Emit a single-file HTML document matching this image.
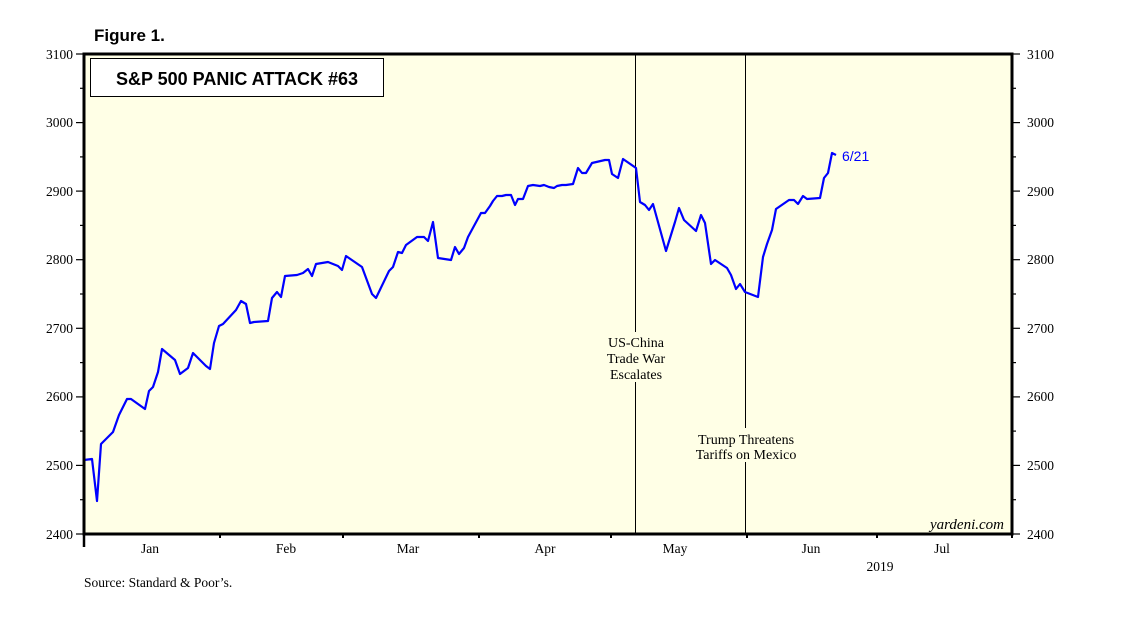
<!DOCTYPE html>
<html><head><meta charset="utf-8"><style>
html,body{margin:0;padding:0;background:#fff;}
svg{display:block;}
</style></head><body>
<svg width="1138" height="621" viewBox="0 0 1138 621" xmlns="http://www.w3.org/2000/svg">
<rect x="0" y="0" width="1138" height="621" fill="#fff"/>
<text x="94" y="41" font-family="Liberation Sans, sans-serif" font-weight="bold" font-size="17">Figure 1.</text>
<rect x="84" y="54" width="928" height="480" fill="#ffffe6"/>
<!-- event lines -->
<line x1="635.5" y1="54" x2="635.5" y2="534" stroke="#000" stroke-width="1"/>
<line x1="745.5" y1="54" x2="745.5" y2="534" stroke="#000" stroke-width="1"/>
<rect x="600" y="332" width="72" height="50" fill="#ffffe6"/>
<rect x="688" y="428" width="116" height="34" fill="#ffffe6"/>
<g font-family="Liberation Serif, serif" font-size="14" text-anchor="middle" fill="#000">
<text x="636" y="347">US-China</text>
<text x="636" y="363">Trade War</text>
<text x="636" y="379">Escalates</text>
<text x="746" y="444">Trump Threatens</text>
<text x="746" y="459">Tariffs on Mexico</text>
</g>
<!-- title box -->
<rect x="90.5" y="58.5" width="293" height="38" fill="#fff" stroke="#000" stroke-width="1"/>
<text x="237" y="85" text-anchor="middle" font-family="Liberation Sans, sans-serif" font-weight="bold" font-size="18">S&amp;P 500 PANIC ATTACK #63</text>
<!-- series -->
<polyline fill="none" stroke="#0000ff" stroke-width="2.2" stroke-linejoin="round" points="84,460 92,459 97,501 101,444 113,432 119,415 127,399 131,399 145,409 149,391 153,387 158,372 162,349 175,360 180,374 188,368 193,353 206,366 210,369 214,343 219,326 223,324 236,310 241,301 246,304 250,323 254,322 268,321 272,298 277,292 281,297 285,276 297,275 303,273 308,269 312,276 316,264 328,262 333,264 338,266 342,270 346,256 362,267 372,294 376,298 389,271 393,267 398,252 402,253 406,245 417,237 424,237 428,241 433,222 438,258 451,260 455,247 459,254 464,248 468,237 481,213 485,213 490,206 493,201 497,196 502,196 506,195 511,195 515,205 518,199 523,199 528,186 533,185 540,186 544,185 549,187 554,188 557,186 562,185 566,185 573,184 578,168 582,173 586,173 592,163 605,160 609,160 612,174 618,178 623,159 636,168 640,202 645,205 649,210 653,204 666,251 675,222 679,208 684,220 696,231 701,215 705,223 711,264 715,260 727,268 731,275 736,289 740,284 745,292 758,297 763,257 767,244 772,230 776,209 789,200 794,200 798,204 803,196 807,199 820,198 824,178 828,173 832,153 836,155"/>
<text x="842" y="161" font-family="Liberation Sans, sans-serif" font-size="14" fill="#0000ff">6/21</text>
<text x="1004" y="529" text-anchor="end" font-family="Liberation Serif, serif" font-style="italic" font-size="15">yardeni.com</text>
<!-- frame -->
<rect x="84" y="54" width="928" height="480" fill="none" stroke="#000" stroke-width="3"/>
<!-- y ticks & labels -->
<g stroke="#000" stroke-width="1.2">
<line x1="76" y1="54" x2="84" y2="54"/><line x1="1012" y1="54" x2="1020" y2="54"/>
<line x1="80" y1="88.3" x2="84" y2="88.3"/><line x1="1012" y1="88.3" x2="1016" y2="88.3"/>
<line x1="76" y1="122.6" x2="84" y2="122.6"/><line x1="1012" y1="122.6" x2="1020" y2="122.6"/>
<line x1="80" y1="156.9" x2="84" y2="156.9"/><line x1="1012" y1="156.9" x2="1016" y2="156.9"/>
<line x1="76" y1="191.1" x2="84" y2="191.1"/><line x1="1012" y1="191.1" x2="1020" y2="191.1"/>
<line x1="80" y1="225.4" x2="84" y2="225.4"/><line x1="1012" y1="225.4" x2="1016" y2="225.4"/>
<line x1="76" y1="259.7" x2="84" y2="259.7"/><line x1="1012" y1="259.7" x2="1020" y2="259.7"/>
<line x1="80" y1="294" x2="84" y2="294"/><line x1="1012" y1="294" x2="1016" y2="294"/>
<line x1="76" y1="328.3" x2="84" y2="328.3"/><line x1="1012" y1="328.3" x2="1020" y2="328.3"/>
<line x1="80" y1="362.6" x2="84" y2="362.6"/><line x1="1012" y1="362.6" x2="1016" y2="362.6"/>
<line x1="76" y1="396.9" x2="84" y2="396.9"/><line x1="1012" y1="396.9" x2="1020" y2="396.9"/>
<line x1="80" y1="431.1" x2="84" y2="431.1"/><line x1="1012" y1="431.1" x2="1016" y2="431.1"/>
<line x1="76" y1="465.4" x2="84" y2="465.4"/><line x1="1012" y1="465.4" x2="1020" y2="465.4"/>
<line x1="80" y1="499.7" x2="84" y2="499.7"/><line x1="1012" y1="499.7" x2="1016" y2="499.7"/>
<line x1="76" y1="534" x2="84" y2="534"/><line x1="1012" y1="534" x2="1020" y2="534"/>
<!-- x ticks -->
<line x1="84" y1="534" x2="84" y2="547" stroke-width="2.5"/>
<line x1="220" y1="534" x2="220" y2="538" stroke-width="2"/>
<line x1="343" y1="534" x2="343" y2="538" stroke-width="2"/>
<line x1="479" y1="534" x2="479" y2="538" stroke-width="2"/>
<line x1="611" y1="534" x2="611" y2="538" stroke-width="2"/>
<line x1="747" y1="534" x2="747" y2="538" stroke-width="2"/>
<line x1="877" y1="534" x2="877" y2="538" stroke-width="2"/>
<line x1="1012" y1="534" x2="1012" y2="538" stroke-width="2"/>
</g>
<g font-family="Liberation Serif, serif" font-size="13.5" fill="#000">
<g text-anchor="end">
<text x="73" y="59">3100</text><text x="73" y="127">3000</text><text x="73" y="196">2900</text><text x="73" y="264">2800</text><text x="73" y="333">2700</text><text x="73" y="401">2600</text><text x="73" y="470">2500</text><text x="73" y="539">2400</text>
</g>
<text x="1027" y="59">3100</text><text x="1027" y="127">3000</text><text x="1027" y="196">2900</text><text x="1027" y="264">2800</text><text x="1027" y="333">2700</text><text x="1027" y="401">2600</text><text x="1027" y="470">2500</text><text x="1027" y="539">2400</text>
<g text-anchor="middle">
<text x="150" y="553">Jan</text><text x="286" y="553">Feb</text><text x="408" y="553">Mar</text><text x="545" y="553">Apr</text><text x="675" y="553">May</text><text x="811" y="553">Jun</text><text x="942" y="553">Jul</text>
<text x="880" y="571">2019</text>
</g>
<text x="84" y="587">Source: Standard &amp; Poor’s.</text>
</g>
</svg>
</body></html>
